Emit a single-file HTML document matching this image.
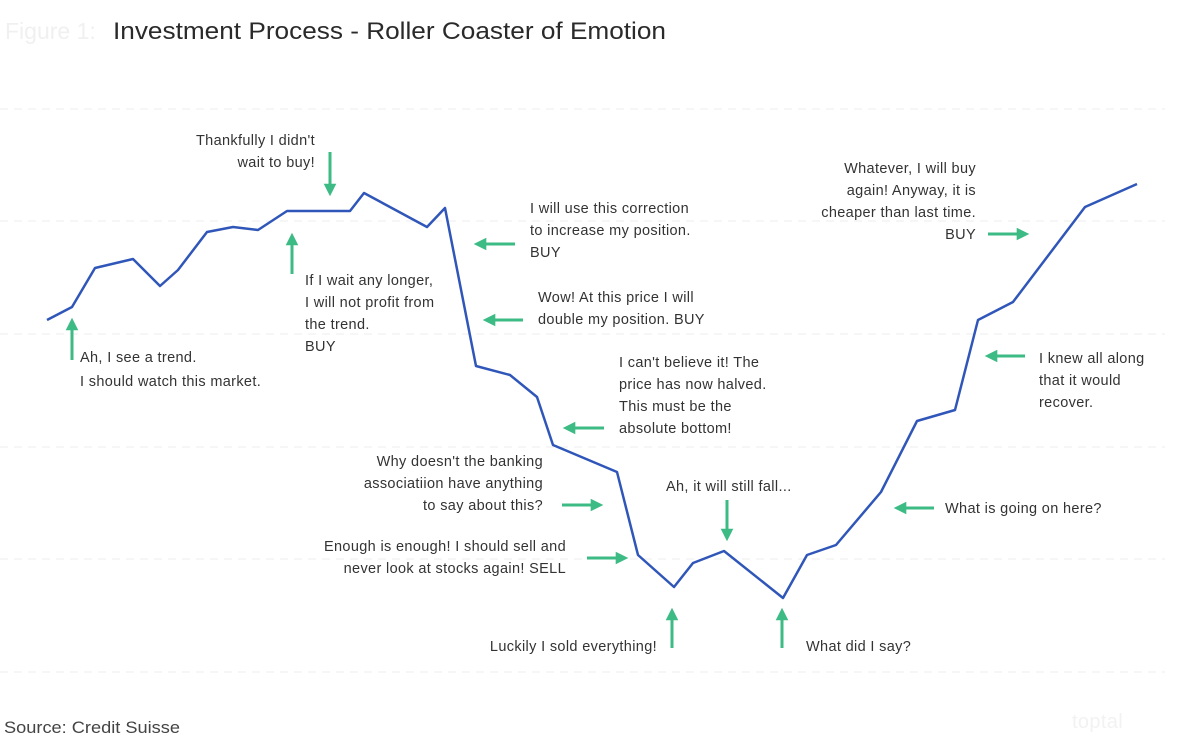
<!DOCTYPE html>
<html><head><meta charset="utf-8"><style>
html,body{margin:0;padding:0;background:#fff;width:1198px;height:742px;overflow:hidden}
svg{display:block}
text{font-family:"Liberation Sans",sans-serif;font-size:14.5px;fill:#333;letter-spacing:0.35px}
</style></head><body>
<svg width="1198" height="742" viewBox="0 0 1198 742">
<defs>
<marker id="ah" viewBox="0 0 10 10" refX="5" refY="5" markerWidth="4.2" markerHeight="4.2" orient="auto"><path d="M0,0 L10,5 L0,10 z" fill="#3dbb85"/></marker>
</defs>
<text x="5" y="39" style="font-size:23px;fill:#f0f0f0;letter-spacing:0">Figure 1:</text>
<text x="113" y="39" textLength="553" lengthAdjust="spacingAndGlyphs" style="font-size:24px;fill:#2a2a2a;letter-spacing:0">Investment Process - Roller Coaster of Emotion</text>
<g stroke="#ececec" stroke-width="1" stroke-dasharray="8,6">
<line x1="0" y1="109" x2="1165" y2="109"/>
<line x1="0" y1="221" x2="1165" y2="221"/>
<line x1="0" y1="334" x2="1165" y2="334"/>
<line x1="0" y1="447" x2="1165" y2="447"/>
<line x1="0" y1="559" x2="1165" y2="559"/>
<line x1="0" y1="672" x2="1165" y2="672"/>
</g>
<polyline fill="none" stroke="#2f56b8" stroke-width="2.5" stroke-linejoin="round" points="47,320 72,307 95,268 133,259 160,286 178,270 207,232 233,227 258,230 287,211 350,211 364,193 427,227 445,208 476,366 510,375 537,397 553,445 617,472 638,555 674,587 693,563 724,551 783,598 807,555 836,545 881,492 917,421 955,410 978,320 1013,302 1085,207 1137,184"/>
<g stroke="#3dbb85" stroke-width="3" marker-end="url(#ah)">
<line x1="72" y1="360" x2="72" y2="324"/>
<line x1="330" y1="152" x2="330" y2="190"/>
<line x1="292" y1="274" x2="292" y2="239"/>
<line x1="515" y1="244" x2="480" y2="244"/>
<line x1="523" y1="320" x2="489" y2="320"/>
<line x1="604" y1="428" x2="569" y2="428"/>
<line x1="562" y1="505" x2="597" y2="505"/>
<line x1="587" y1="558" x2="622" y2="558"/>
<line x1="727" y1="500" x2="727" y2="535"/>
<line x1="672" y1="648" x2="672" y2="614"/>
<line x1="782" y1="648" x2="782" y2="614"/>
<line x1="934" y1="508" x2="900" y2="508"/>
<line x1="1025" y1="356" x2="991" y2="356"/>
<line x1="988" y1="234" x2="1023" y2="234"/>
</g>
<g>
<text x="80" y="362">Ah, I see a trend.</text>
<text x="80" y="386">I should watch this market.</text>
<text x="315" y="145" text-anchor="end">Thankfully I didn't</text>
<text x="315" y="167" text-anchor="end">wait to buy!</text>
<text x="305" y="285">If I wait any longer,</text>
<text x="305" y="307">I will not profit from</text>
<text x="305" y="329">the trend.</text>
<text x="305" y="351">BUY</text>
<text x="530" y="213">I will use this correction</text>
<text x="530" y="235">to increase my position.</text>
<text x="530" y="257">BUY</text>
<text x="538" y="302">Wow! At this price I will</text>
<text x="538" y="324">double my position. BUY</text>
<text x="619" y="367">I can't believe it! The</text>
<text x="619" y="389">price has now halved.</text>
<text x="619" y="411">This must be the</text>
<text x="619" y="433">absolute bottom!</text>
<text x="543" y="466" text-anchor="end">Why doesn't the banking</text>
<text x="543" y="488" text-anchor="end">associatiion have anything</text>
<text x="543" y="510" text-anchor="end">to say about this?</text>
<text x="566" y="551" text-anchor="end">Enough is enough! I should sell and</text>
<text x="566" y="573" text-anchor="end">never look at stocks again! SELL</text>
<text x="666" y="491">Ah, it will still fall...</text>
<text x="657" y="651" text-anchor="end">Luckily I sold everything!</text>
<text x="806" y="651">What did I say?</text>
<text x="945" y="513">What is going on here?</text>
<text x="1039" y="363">I knew all along</text>
<text x="1039" y="385">that it would</text>
<text x="1039" y="407">recover.</text>
<text x="976" y="173" text-anchor="end">Whatever, I will buy</text>
<text x="976" y="195" text-anchor="end">again! Anyway, it is</text>
<text x="976" y="217" text-anchor="end">cheaper than last time.</text>
<text x="976" y="239" text-anchor="end">BUY</text>
</g>
<text x="4" y="733" textLength="176" lengthAdjust="spacingAndGlyphs" style="font-size:16.5px;fill:#444;letter-spacing:0">Source: Credit Suisse</text>
<text x="1072" y="728" style="font-size:20px;fill:#f2f2f2">toptal</text>
</svg>
</body></html>
